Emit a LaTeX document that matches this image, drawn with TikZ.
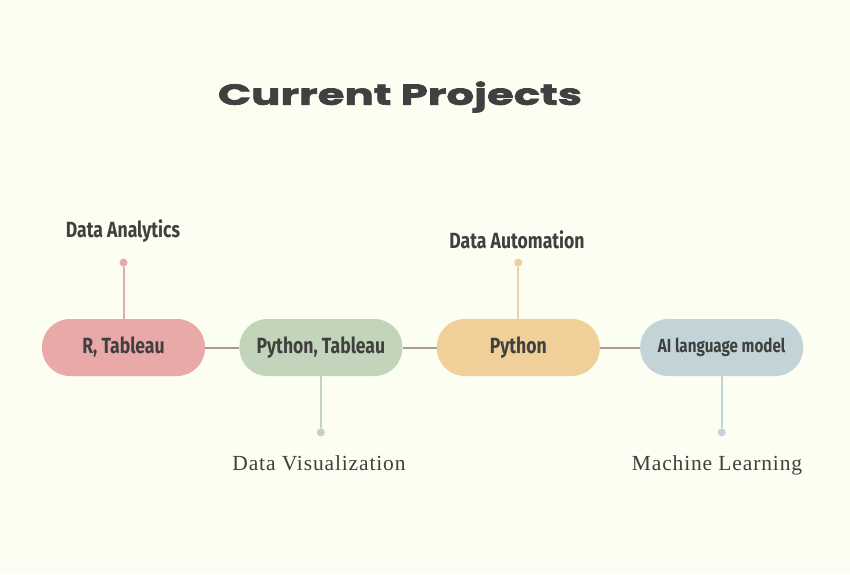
\documentclass[tikz,border=0pt]{standalone}
\usepackage{fontspec}
\setmainfont{Fira Sans}[FakeStretch=0.8]
\newfontfamily\titlefont{Poppins}[FakeStretch=1.5, BoldFeatures={FakeBold=2.5}]
\newfontfamily\serifnote{Liberation Serif}[LetterSpace=4]
\definecolor{bgcream}{RGB}{251,254,240}
\definecolor{inkgrey}{RGB}{64,64,64}
\definecolor{linkgrey}{RGB}{170,155,152}
\definecolor{rosepill}{RGB}{234,169,169}
\definecolor{sagepill}{RGB}{194,212,185}
\definecolor{sandpill}{RGB}{240,207,152}
\definecolor{mistpill}{RGB}{195,212,216}
\usetikzlibrary{positioning}

\begin{document}
\begin{tikzpicture}[
    x=1pt, y=-1pt,
    node distance=34pt,
    pill/.style={rounded corners=28pt, minimum width=163pt, minimum height=57pt, inner sep=0pt, font=\fontsize{22}{24}\selectfont\bfseries, text=inkgrey},
    dot/.style={circle, inner sep=0pt, minimum size=8pt},
    tag/.style={font=\fontsize{22}{24}\selectfont\bfseries, text=inkgrey},
    serif tag/.style={font=\serifnote\fontsize{21.5}{24}\selectfont, text=inkgrey},
    link/.style={linkgrey, line width=2pt},
    stem/.style={line width=2pt}
]
    \fill[bgcream] (0,0) rectangle (850,574);
    \useasboundingbox (0,0) rectangle (850,574);

    \node[font=\titlefont\fontsize{29}{31}\selectfont\bfseries, text=inkgrey] (title) at (400,97) {Current Projects};

    \node[pill, fill=rosepill] (p1) at (123.5,347.5) {R, Tableau};
    \node[pill, fill=sagepill, right=of p1] (p2) {Python, Tableau};
    \node[pill, fill=sandpill, right=of p2] (p3) {Python};
    \node[pill, fill=mistpill, right=40pt of p3, font=\fontsize{19}{22}\selectfont\bfseries] (p4) {AI language model};

    \node[dot, fill=rosepill, above=52pt of p1] (d1) {};
    \node[dot, fill=sagepill, below=52pt of p2] (d2) {};
    \node[dot, fill=sandpill, above=52pt of p3] (d3) {};
    \node[dot, fill=mistpill, below=52pt of p4] (d4) {};

    \node[tag] (l1) at (123,231) {Data Analytics};
    \node[serif tag] (l2) at (319,463) {Data Visualization};
    \node[tag] (l3) at (517,240) {Data Automation};
    \node[serif tag] (l4) at (717,465) {Machine Learning};

    \draw[link] (p1) -- (p2);
    \draw[link] (p2) -- (p3);
    \draw[link] (p3) -- (p4);

    \draw[stem, rosepill] (p1) -- (d1);
    \draw[stem, sagepill] (p2) -- (d2);
    \draw[stem, sandpill] (p3) -- (d3);
    \draw[stem, mistpill] (p4) -- (d4);
\end{tikzpicture}
\end{document}
